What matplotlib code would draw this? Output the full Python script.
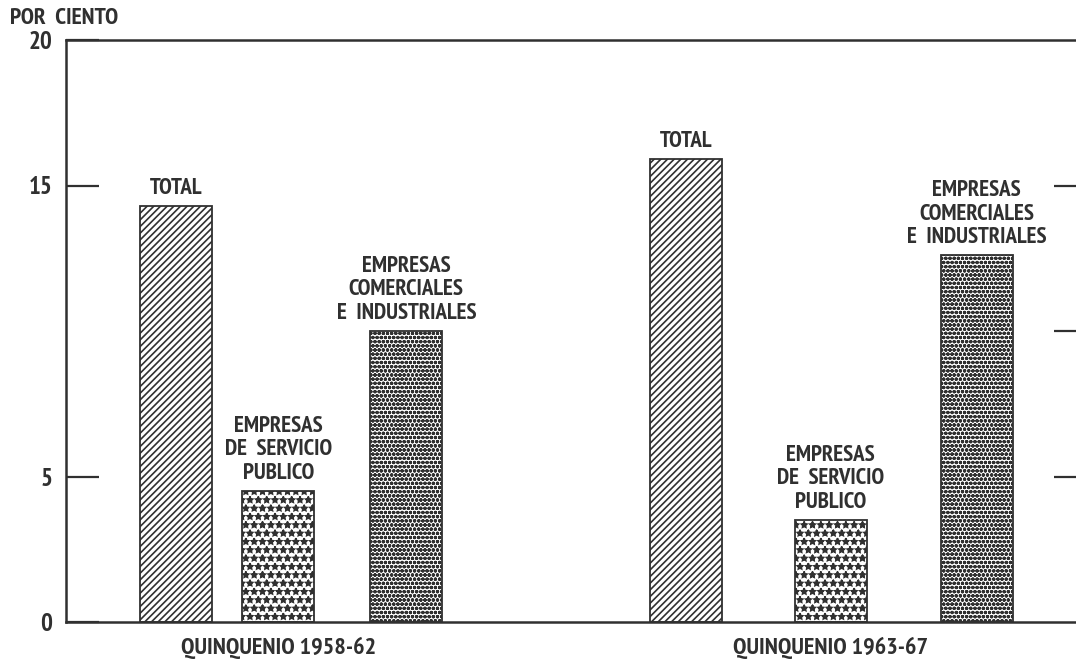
import matplotlib
matplotlib.use('Agg')
import matplotlib.pyplot as plt

# datos (por ciento)
periodos = ['QUINQUENIO 1958-62', 'QUINQUENIO 1963-67']
etiquetas = ['TOTAL', 'EMPRESAS\nDE  SERVICIO\nPUBLICO', 'EMPRESAS\nCOMERCIALES\nE  INDUSTRIALES']
valores_1958 = [14.3, 4.5, 10.0]
valores_1963 = [15.9, 3.5, 12.6]

# posiciones (unidades de 10 px)
pos_1958 = [11.0, 21.2, 34.0]
pos_1963 = [62.0, 76.4, 91.0]
ancho = 7.2
tramas = ['/////', '**', 'oooo']

plt.rcParams['font.family'] = ['PT Sans Narrow', 'DejaVu Sans']
plt.rcParams['font.weight'] = 'bold'
plt.rcParams['hatch.linewidth'] = 1.2
gris = '#303030'

fig = plt.figure(figsize=(10.76, 6.62), dpi=100)
ax = fig.add_axes([66/1076, 40/662, 1 - 66/1076 + 0.01, 582/662])

for pos, vals in [(pos_1958, valores_1958), (pos_1963, valores_1963)]:
    for x, v, lab, h in zip(pos, vals, etiquetas, tramas):
        ax.bar(x, v, width=ancho, color='white', edgecolor=gris, hatch=h, linewidth=1.3)
        ax.text(x, v + 0.25, lab, ha='center', va='bottom', fontsize=16.5,
                color=gris, linespacing=1.15, fontweight='bold')

ax.set_xlim(0, 102)
ax.set_ylim(0, 20)
ax.set_xticks([])
ax.set_yticks([0, 5, 15, 20])
ax.set_yticklabels(['0', '5', '15', '20'], fontsize=18, color=gris, fontweight='bold')
ax.tick_params(axis='y', direction='in', length=24, width=1.6, color=gris, pad=10)
for lado in ['left', 'top', 'bottom']:
    ax.spines[lado].set_linewidth(1.8)
    ax.spines[lado].set_color(gris)
ax.spines['right'].set_visible(False)

der = ax.twinx()
der.set_ylim(0, 20)
der.set_yticks([5, 10, 15])
der.set_yticklabels([])
der.tick_params(axis='y', direction='in', length=24, width=1.6, color=gris)
for lado in der.spines:
    der.spines[lado].set_visible(False)

for p, pos in zip(periodos, [pos_1958, pos_1963]):
    ax.text(pos[1], -0.9, p, ha='center', va='center', fontsize=17.5,
            color=gris, fontweight='bold')

fig.text(10/1076, 1 - 18/662, 'POR  CIENTO', ha='left', va='center',
         fontsize=17, color=gris, fontweight='bold')

fig.savefig('out.png', dpi=100)
